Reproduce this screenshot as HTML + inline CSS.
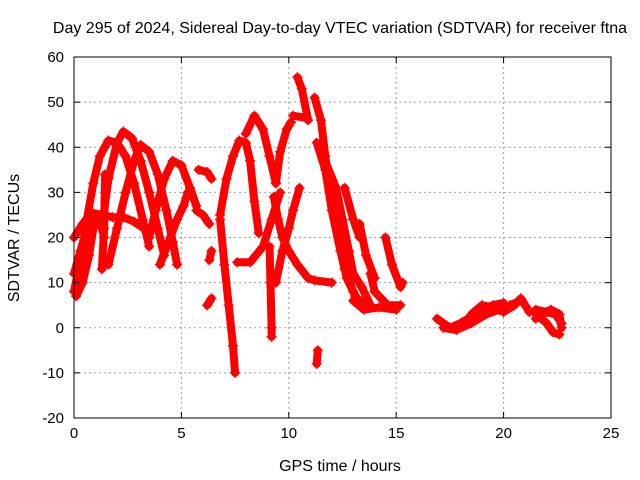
<!DOCTYPE html>
<html><head><meta charset="utf-8">
<style>
html,body{margin:0;padding:0;background:#fff;}
svg{display:block;font-family:"Liberation Sans",sans-serif;}
</style></head>
<body>
<svg id="chart" width="640" height="480" viewBox="0 0 640 480" xmlns="http://www.w3.org/2000/svg">
<text x="340" y="33" font-size="16" text-anchor="middle">Day 295 of 2024, Sidereal Day-to-day VTEC variation (SDTVAR) for receiver ftna</text>
<text x="340" y="471" font-size="16" text-anchor="middle">GPS time / hours</text>
<text transform="translate(19,238) rotate(-90)" font-size="16" text-anchor="middle">SDTVAR / TECUs</text>
<g id="grid"></g>
<g id="marks"></g>
<g id="axes"></g>
</svg>
<script>
const xTicks = [0,5,10,15,20,25];
const yTicks = [-20,-10,0,10,20,30,40,50,60];
const arc01 = [[0,8],[0.3,15],[0.6,24],[0.9,32],[1.2,38],[1.6,41.5],[2.0,41],[2.4,38],[2.8,32],[3.2,24],[3.5,18]];
const arc02 = [[1.3,22],[1.6,33],[2.0,41],[2.3,43.5],[2.7,42],[3.1,37],[3.5,30],[3.9,22],[4.2,16]];
const arc03 = [[1.6,14],[2.0,22],[2.4,30],[2.8,37],[3.1,40.5],[3.5,39],[3.9,34],[4.3,26],[4.6,19],[4.8,14]];
const arc04 = [[3.5,20],[3.8,26],[4.2,33],[4.6,37],[5.0,36],[5.4,31],[5.7,27]];
const arc05 = [[4.0,14],[4.4,19],[4.8,24],[5.1,27],[5.3,30]];
const arc06 = [[0,20],[0.4,23],[0.8,25.5],[1.3,25],[1.8,24.5],[2.3,24.5],[2.8,23.5],[3.1,22.5]];
const arc07 = [[0,12],[0.3,17],[0.6,22],[0.9,25],[1.2,24],[1.4,20]];
const arc08 = [[0.1,7],[0.4,10],[0.7,16],[0.9,22],[1.1,25]];
const arc09 = [[1.3,13],[1.4,22],[1.45,34]];
const arc10 = [[5.8,35],[6.2,34.5],[6.4,33]];
const arc11 = [[5.7,26],[6.0,25],[6.3,23]];
const arc12 = [[6.3,15],[6.4,17]];
const arc13 = [[6.2,5],[6.4,6.5]];
const arc14 = [[6.8,24],[7.0,14],[7.2,5],[7.4,-4],[7.5,-10]];
const arc15 = [[6.8,25],[7.1,33],[7.4,38],[7.7,41.5],[8.0,41],[8.2,37],[8.4,28],[8.6,21]];
const arc16 = [[8.0,43],[8.4,47],[8.8,44],[9.1,38],[9.4,32]];
const arc17 = [[7.6,14.5],[8.2,14.5],[8.8,18],[9.2,24],[9.6,30]];
const arc18 = [[9.4,32],[9.6,39],[9.9,44],[10.1,45.5]];
const arc19 = [[9.1,18],[9.15,10],[9.2,0],[9.2,-2]];
const arc20 = [[9.3,29],[9.5,24],[9.7,20],[10.0,17],[10.4,14],[10.9,11],[11.2,10.5],[12.0,10]];
const arc21 = [[9.4,10],[9.7,17],[10.0,22],[10.2,26],[10.5,31]];
const arc22 = [[10.4,55.5],[10.6,53],[10.9,46]];
const arc23 = [[10.2,47],[10.8,46.5]];
const arc24 = [[11.2,51],[11.5,46],[11.7,38],[12.0,28],[12.3,20],[12.6,13],[13.0,8],[13.3,5]];
const arc25 = [[11.3,41],[11.7,35],[12.0,26],[12.4,17],[12.7,11],[13.1,7],[13.5,5]];
const arc26 = [[11.6,38],[12.2,31],[12.5,24],[12.8,17],[13.0,12],[13.4,9],[13.8,5]];
const arc27 = [[12.6,31],[13.0,24],[13.3,20]];
const arc28 = [[13.3,23],[13.6,16],[14.0,11]];
const arc29 = [[13.8,12],[14.0,8],[14.6,5],[15.2,5]];
const arc30 = [[14.5,20],[14.8,14],[15.2,9],[15.3,10]];
const arc31 = [[13.0,6],[13.5,4],[14.2,4.5],[15.0,4]];
const arc32 = [[11.3,-8],[11.35,-5]];
const arc33 = [[16.9,2],[17.5,0],[18.0,1],[18.5,2.5],[19.0,4],[19.5,5],[20.0,5.5]];
const arc34 = [[17.2,0],[17.8,-0.5],[18.5,1],[19.2,3],[19.8,4],[20.3,5],[20.8,6]];
const arc35 = [[18.5,3],[19.0,5],[19.5,4.5],[20.0,3.5],[20.5,5],[20.8,6.5],[21.2,3.5]];
const arc36 = [[21.5,4],[22.0,3.5],[22.4,3],[22.7,1]];
const arc37 = [[21.5,3],[22.0,1],[22.3,-1],[22.6,-1.5]];
const arc38 = [[21.5,2],[22.2,4],[22.6,3],[22.7,0]];
const arcs = [arc01,arc02,arc03,arc04,arc05,arc06,arc07,arc08,arc09,arc10,arc11,arc12,arc13,arc14,arc15,arc16,arc17,arc18,arc19,arc20,arc21,arc22,arc23,arc24,arc25,arc26,arc27,arc28,arc29,arc30,arc31,arc32,arc33,arc34,arc35,arc36,arc37,arc38];

const NS = "http://www.w3.org/2000/svg";
const L = 74, R = 611, T = 57, B = 418;
const xMin = 0, xMax = 25, yMin = -20, yMax = 60;
function xs(v){ return L + (v - xMin) / (xMax - xMin) * (R - L); }
function ys(v){ return B - (v - yMin) / (yMax - yMin) * (B - T); }
function mk(tag, attrs, parent){ const e = document.createElementNS(NS, tag); for (const k in attrs) e.setAttribute(k, attrs[k]); parent.appendChild(e); return e; }

const grid = document.getElementById('grid');
const axes = document.getElementById('axes');
const marks = document.getElementById('marks');

xTicks.forEach(t => {
  const x = xs(t);
  if (t > xMin && t < xMax) {
    const g = mk('line', {x1:x, x2:x, y1:T, y2:B, stroke:'#a0a0a0', 'stroke-dasharray':'2,3'}, grid);
    
    
  }
  const tk = mk('line', {x1:x, x2:x, y1:B, y2:B-6, stroke:'#000'}, axes);
  
  
  const tk2 = mk('line', {x1:x, x2:x, y1:T, y2:T+6, stroke:'#000'}, axes);
  
  
  const lb = mk('text', {x:x, y:B+20, 'font-size':15, 'text-anchor':'middle'}, axes);
  
  
  lb.textContent = t;
});
yTicks.forEach(t => {
  const y = ys(t);
  if (t > yMin && t < yMax) {
    const g = mk('line', {x1:L, x2:R, y1:y, y2:y, stroke:'#a0a0a0', 'stroke-dasharray':'2,3'}, grid);
    
    
  }
  const tk = mk('line', {x1:L, x2:L+6, y1:y, y2:y, stroke:'#000'}, axes);
  
  
  const tk2 = mk('line', {x1:R, x2:R-6, y1:y, y2:y, stroke:'#000'}, axes);
  
  
  const lb = mk('text', {x:L-10, y:y+5, 'font-size':15, 'text-anchor':'end'}, axes);
  
  
  lb.textContent = t;
});
const frame = mk('rect', {x:L, y:T, width:R-L, height:B-T, fill:'none', stroke:'#000'}, axes);



arcs.forEach(a => {
  const pts = a.map(p => xs(p[0]).toFixed(1) + ',' + ys(p[1]).toFixed(1)).join(' ');
  const pl = mk('polyline', {points:pts, fill:'none', stroke:'#ff0000', 'stroke-width':8, 'stroke-linejoin':'round', 'stroke-linecap':'round'}, marks);
  
  
  a.forEach(p => {
    const x = xs(p[0]), y = ys(p[1]);
    const m = mk('path', {d:`M${x-5},${y}H${x+5}M${x},${y-5}V${y+5}`, stroke:'#ff0000', 'stroke-width':1.5}, marks);
    
    
  });
});
</script>
</body></html>
